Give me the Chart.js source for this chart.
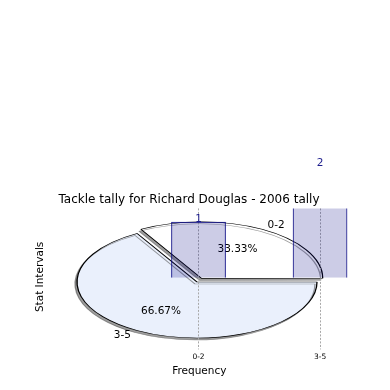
<!DOCTYPE html>
<html>
<head>
<meta charset="utf-8">
<script src="https://cdn.jsdelivr.net/npm/chart.js@4/dist/chart.umd.min.js"></script>
<style>
html, body { margin: 0; padding: 0; background: #fff; overflow: hidden; }
#wrap { position: relative; width: 390px; height: 390px; }
#wrap canvas { position: absolute; left: 0; top: 0; }
</style>
</head>
<body>
<div id="wrap">
  <canvas id="pie" width="390" height="390"></canvas>
  <canvas id="bars" width="390" height="390"></canvas>
</div>
<script>
const categories = ['0-2', '3-5'];
const tackles = [1, 2];
const sliceColors = ['#ffffff', '#eaf0fc'];
const explode = [36, 0];

const FONT = 'DejaVu Sans';
const squash = 0.467; // pie is drawn as a flattened ellipse
const total = tackles.reduce((a, b) => a + b, 0);

// flattens the pie, adds the shadow and writes the slice labels
const pieLook = {
  id: 'pieLook',
  beforeDatasetsDraw(chart) {
    const ctx = chart.ctx;
    const c = chart.getDatasetMeta(0).data[0];
    ctx.save();
    ctx.translate(0, c.y);
    ctx.scale(1, squash);
    ctx.translate(0, -c.y);
    ctx.shadowColor = 'rgba(60,60,60,0.5)';
    ctx.shadowOffsetX = -2;
    ctx.shadowOffsetY = 2;
  },
  afterDatasetsDraw(chart) {
    const ctx = chart.ctx;
    ctx.restore();
    ctx.save();
    ctx.font = '10.5px "' + FONT + '"';
    ctx.fillStyle = '#000';
    ctx.textBaseline = 'middle';
    chart.getDatasetMeta(0).data.forEach((a, i) => {
      const h = (a.startAngle + a.endAngle) / 2;
      const shift = (a.options.offset || 0) / 4;
      const cx = a.x + Math.cos(h) * shift;
      const cy = a.y + Math.sin(h) * shift;
      const at = k => [cx + Math.cos(h) * a.outerRadius * k,
                       a.y + (cy + Math.sin(h) * a.outerRadius * k - a.y) * squash];
      let p = at(1.1);
      ctx.textAlign = Math.cos(h) > 0 ? 'left' : 'right';
      ctx.fillText(categories[i], p[0], p[1]);
      p = at(0.6);
      ctx.textAlign = 'center';
      ctx.fillText((tackles[i] / total * 100).toFixed(2) + '%', p[0], p[1]);
    });
    ctx.restore();
  }
};

new Chart(document.getElementById('pie'), {
  type: 'pie',
  data: {
    labels: categories,
    datasets: [{
      data: tackles,
      backgroundColor: sliceColors,
      borderColor: '#000',
      borderWidth: 1.3,
      offset: explode,
      hoverOffset: 0,
      clip: false
    }]
  },
  options: {
    responsive: false,
    animation: false,
    events: [],
    rotation: -30,
    radius: 120,
    layout: { padding: { left: 4, right: 0, top: 174, bottom: 0 } },
    plugins: { legend: { display: false }, tooltip: { enabled: false } }
  },
  plugins: [pieLook]
});

// value written above each bar
const valueTags = {
  id: 'valueTags',
  afterDatasetsDraw(chart) {
    const ctx = chart.ctx;
    ctx.save();
    ctx.font = '10.5px "' + FONT + '"';
    ctx.fillStyle = '#1c1c8c';
    ctx.textAlign = 'center';
    ctx.textBaseline = 'bottom';
    chart.getDatasetMeta(0).data.forEach((b, i) => {
      ctx.fillText(String(tackles[i]), b.x, b.y + 3);
    });
    ctx.restore();
  }
};

new Chart(document.getElementById('bars'), {
  type: 'bar',
  data: {
    datasets: [{
      data: categories.map((c, i) => ({ x: i, y: tackles[i] })),
      backgroundColor: 'rgba(0,0,128,0.2)',
      borderColor: '#000080',
      borderWidth: 1,
      barPercentage: 0.45,
      categoryPercentage: 1
    }]
  },
  options: {
    responsive: false,
    animation: false,
    events: [],
    layout: { padding: { left: 30, right: 42, top: 193, bottom: 12 } },
    plugins: {
      legend: { display: false },
      tooltip: { enabled: false },
      title: {
        display: true,
        text: 'Tackle tally for Richard Douglas - 2006 tally',
        color: '#000',
        font: { family: FONT, size: 12, weight: 'normal' },
        padding: { top: 0, bottom: 1 }
      }
    },
    scales: {
      x: {
        type: 'linear',
        offset: false,
        min: -1.217,
        max: 1.23,
        afterBuildTicks: s => { s.ticks = categories.map((c, i) => ({ value: i })); },
        ticks: {
          callback: v => categories[v],
          color: '#000',
          font: { family: FONT, size: 7.5 },
          padding: 3,
          maxRotation: 0,
          autoSkip: false
        },
        grid: { offset: false, color: '#a8a8a8', lineWidth: 1, tickLength: 4, tickColor: '#a8a8a8', tickBorderDash: [2, 1.5] },
        border: { display: false, dash: [2, 1.5] },
        title: {
          display: true,
          text: 'Frequency',
          color: '#000',
          font: { family: FONT, size: 10.5 },
          padding: { top: 1, bottom: 0 }
        }
      },
      y: {
        min: -1.21,
        max: 1.24,
        ticks: { display: false },
        grid: { display: false, drawTicks: false },
        border: { display: false },
        title: {
          display: true,
          text: 'Stat Intervals',
          color: '#000',
          font: { family: FONT, size: 10.5 },
          padding: { top: 4, bottom: 4 }
        }
      }
    }
  },
  plugins: [valueTags]
});
</script>
</body>
</html>
